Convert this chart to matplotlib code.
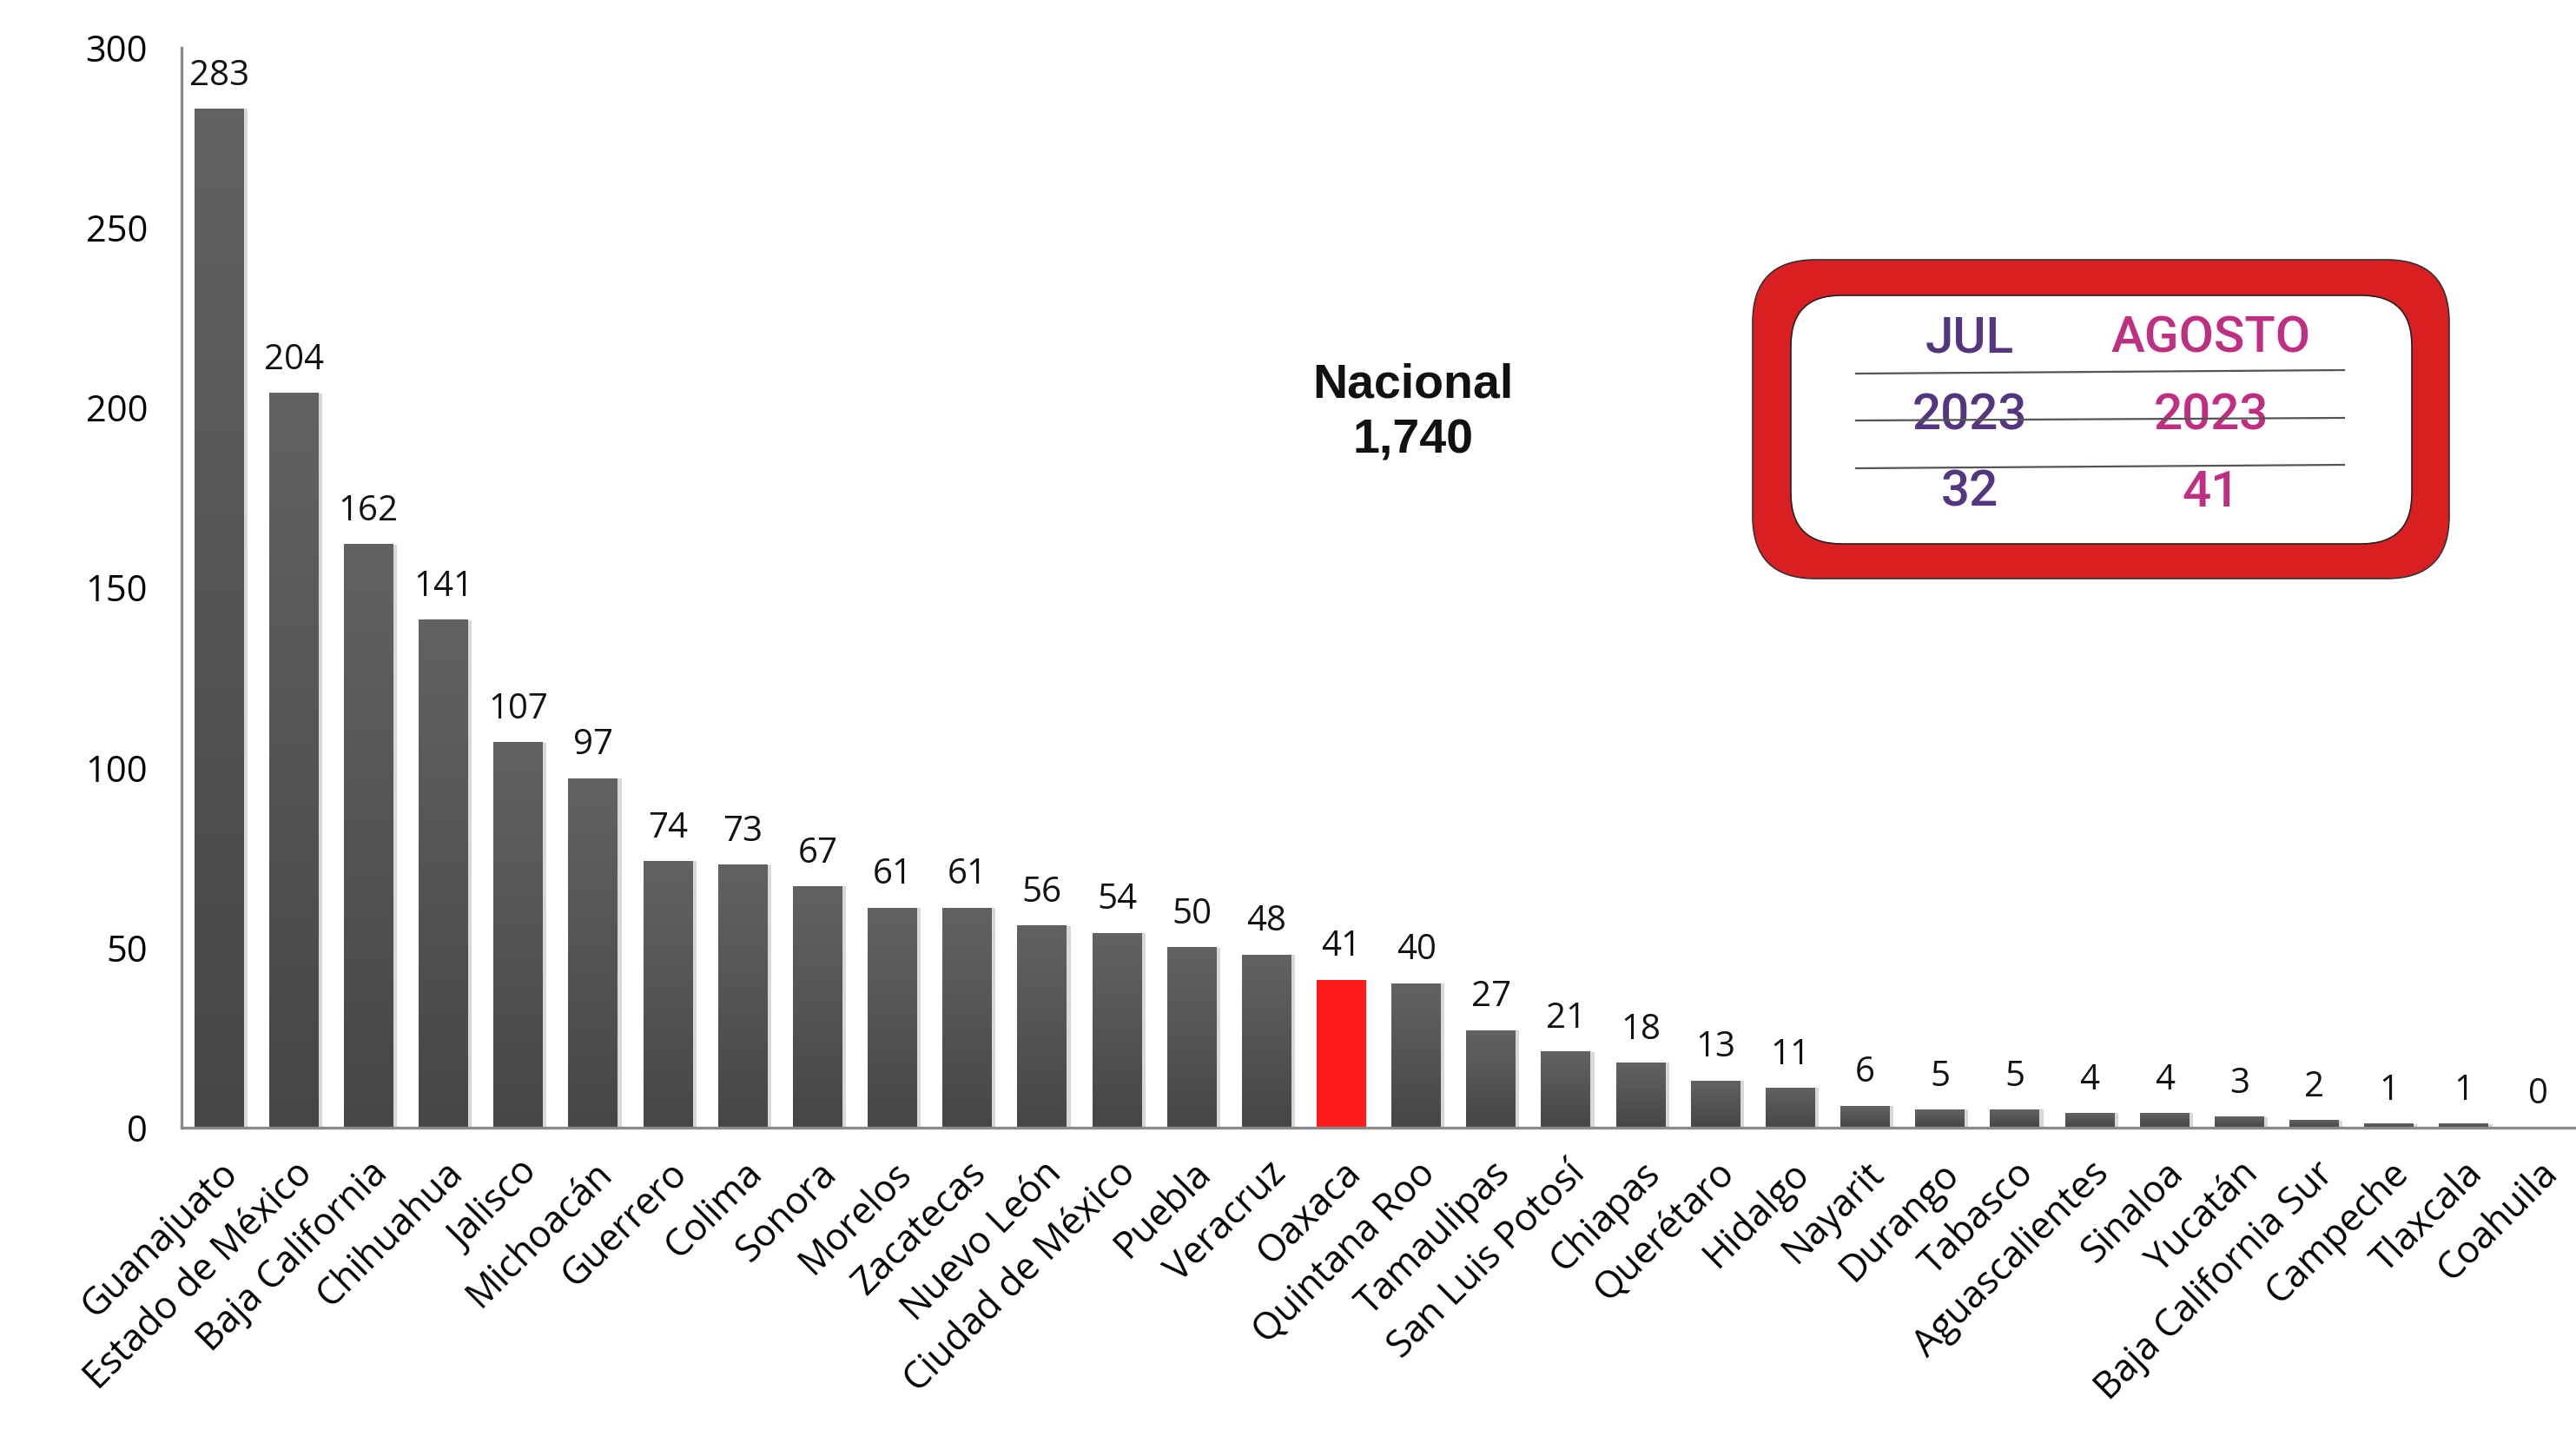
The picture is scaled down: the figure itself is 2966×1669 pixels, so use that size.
import matplotlib.pyplot as plt
import numpy as np
from matplotlib.colors import LinearSegmentedColormap
from matplotlib.patches import FancyBboxPatch

states = ['Guanajuato', 'Estado de México', 'Baja California', 'Chihuahua', 'Jalisco',
          'Michoacán', 'Guerrero', 'Colima', 'Sonora', 'Morelos', 'Zacatecas',
          'Nuevo León', 'Ciudad de México', 'Puebla', 'Veracruz', 'Oaxaca',
          'Quintana Roo', 'Tamaulipas', 'San Luis Potosí', 'Chiapas', 'Querétaro',
          'Hidalgo', 'Nayarit', 'Durango', 'Tabasco', 'Aguascalientes', 'Sinaloa',
          'Yucatán', 'Baja California Sur', 'Campeche', 'Tlaxcala', 'Coahuila']
values = [283, 204, 162, 141, 107, 97, 74, 73, 67, 61, 61, 56, 54, 50, 48, 41,
          40, 27, 21, 18, 13, 11, 6, 5, 5, 4, 4, 3, 2, 1, 1, 0]
highlight = 'Oaxaca'
yticks = [0, 50, 100, 150, 200, 250, 300]
nacional_label = 'Nacional\n1,740'
box_months = ['JUL', 'AGOSTO']
box_years = ['2023', '2023']
box_values = ['32', '41']

plt.rcParams['font.family'] = ['Open Sans', 'DejaVu Sans']

W, H = 2966, 1669
fig = plt.figure(figsize=(W / 100, H / 100), dpi=100)
ax = fig.add_axes([209 / W, 1 - 1298 / H, 1 - 209 / W, (1298 - 55) / H])

grad = LinearSegmentedColormap.from_list('barg', ['#464646', '#626262'])
grad_img = np.linspace(0, 1, 100).reshape(-1, 1)
bw = 0.66
x = np.arange(len(states))
for xi, v, s in zip(x, values, states):
    if s == highlight:
        ax.bar(xi, v, width=bw, color='#FF1A1A', zorder=3)
    elif v > 0:
        # soft shadow to the right
        ax.bar(xi + 0.05, v, width=bw, color='#d8d8d8', zorder=2)
        ax.imshow(grad_img, cmap=grad, origin='lower', aspect='auto',
                  extent=[xi - bw / 2, xi + bw / 2, 0, v], zorder=3)
    ax.annotate(str(v), (xi, v), xytext=(0, 20), textcoords='offset points',
                ha='center', va='baseline', fontsize=29, color='#111111')

ax.set_xlim(-0.5, len(states) - 0.5)
ax.set_ylim(0, 300)
ax.set_yticks(yticks)
ax.set_xticks(x)
ax.set_xticklabels(states, rotation=45, ha='right', va='top',
                   rotation_mode='anchor', fontsize=31)
ax.tick_params(axis='y', length=0, pad=28, labelsize=30)
ax.tick_params(axis='x', length=0, pad=22)
for side in ['top', 'right']:
    ax.spines[side].set_visible(False)
for side in ['left', 'bottom']:
    ax.spines[side].set_color('#8a8a8a')
    ax.spines[side].set_linewidth(2.4)
ax.spines['left'].set_zorder(4)
ax.spines['bottom'].set_zorder(4)

# overlay in pixel coordinates for annotations
ov = fig.add_axes([0, 0, 1, 1])
ov.set_xlim(0, W)
ov.set_ylim(H, 0)
ov.axis('off')

ov.text(1627, 475, nacional_label, ha='center', va='center', fontsize=40,
        fontweight='bold', family=['Liberation Sans', 'DejaVu Sans'],
        linespacing=1.3, color='#111111')

outer = FancyBboxPatch((2018 + 66, 299 + 66), 802 - 132, 367 - 132,
                       boxstyle='round,pad=66,rounding_size=72',
                       facecolor='#DA1F22', edgecolor='#333333', linewidth=1.2)
inner = FancyBboxPatch((2062 + 52, 340 + 52), 715 - 104, 286 - 104,
                       boxstyle='round,pad=52,rounding_size=58',
                       facecolor='white', edgecolor='#222222', linewidth=1.2)
ov.add_patch(outer)
ov.add_patch(inner)

for y0, y1 in [(430, 426), (484, 481), (539, 535)]:
    ov.plot([2137, 2699], [y0, y1], color='#555555', linewidth=1.6, zorder=5)

cols = ['#55357F', '#BE2F82']
cx = [2268, 2546]
cond = ['Roboto', 'DejaVu Sans']
for i in range(2):
    ov.text(cx[i], 390, box_months[i], ha='center', va='center', fontsize=42,
            color=cols[i], family=cond, fontweight='medium')
    ov.text(cx[i], 479, box_years[i], ha='center', va='center', fontsize=42,
            color=cols[i], family=cond, fontweight='medium', zorder=4)
    ov.text(cx[i], 567, box_values[i], ha='center', va='center', fontsize=42,
            color=cols[i], family=cond, fontweight='medium')

fig.savefig('out.png', dpi=100, facecolor='white')
